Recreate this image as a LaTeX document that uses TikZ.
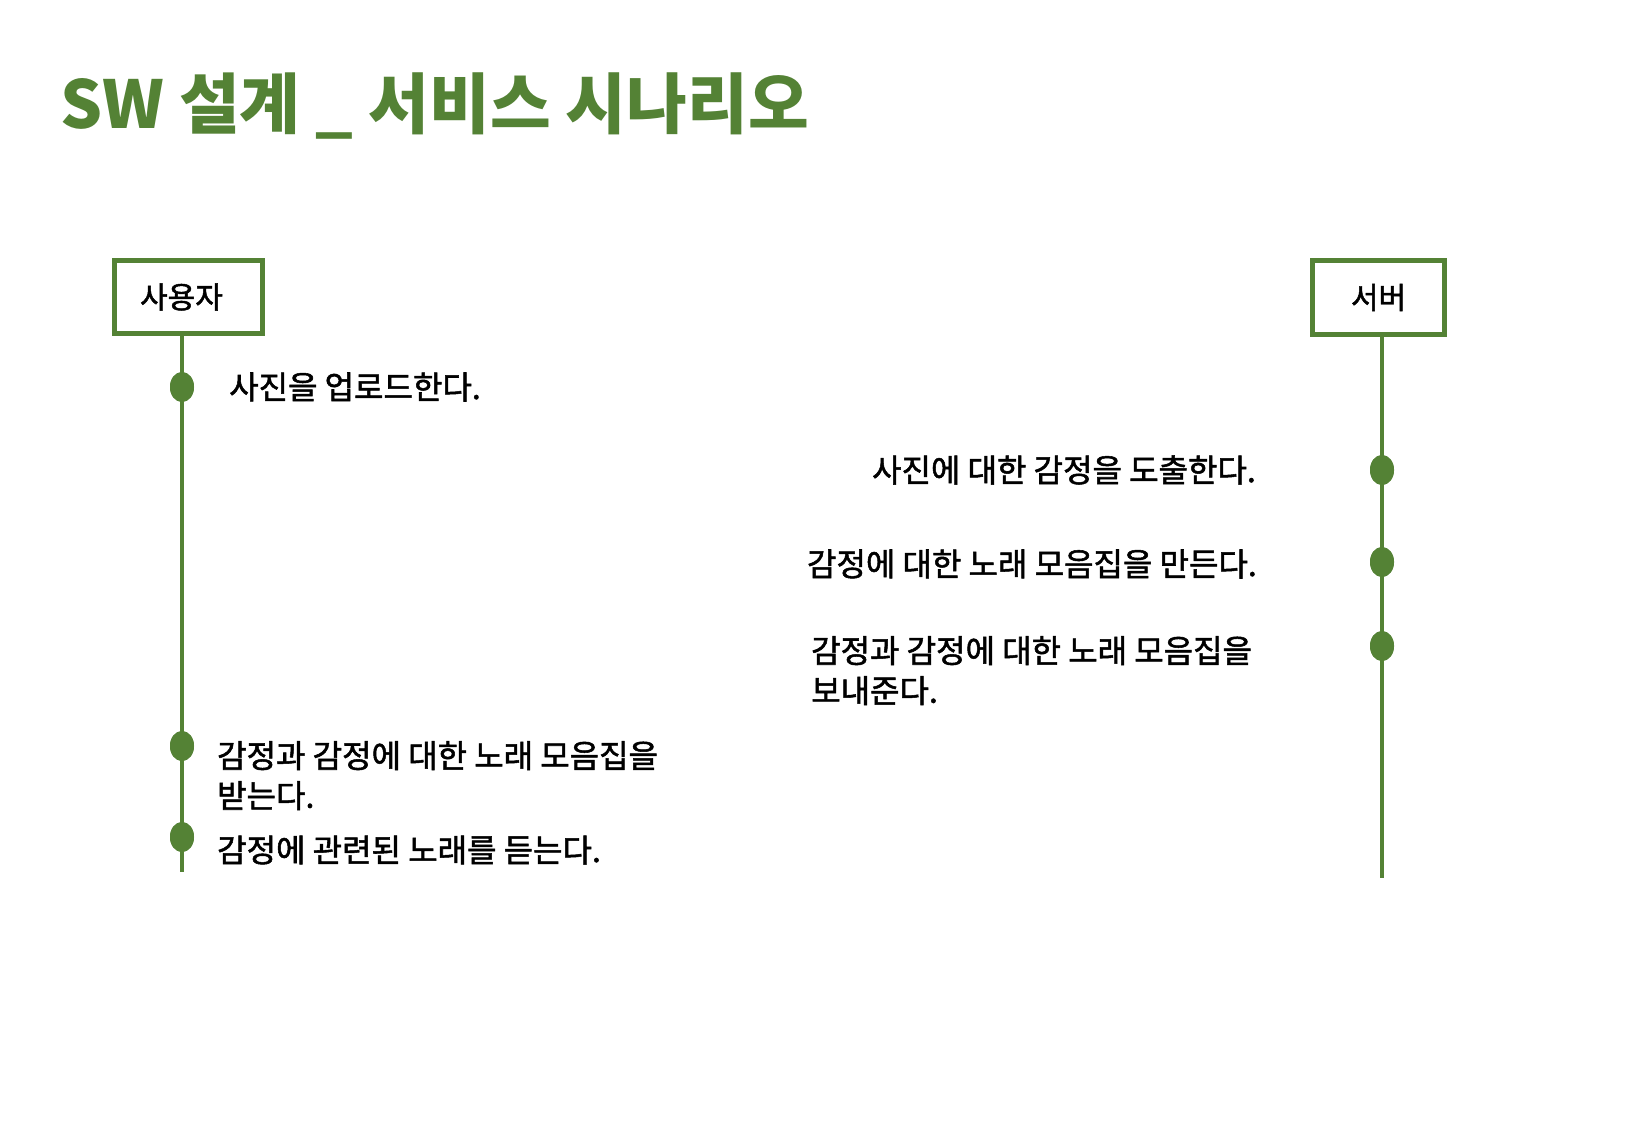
\documentclass[tikz,border=0pt]{standalone}
\usepackage{fontspec}
\setmainfont{Noto Sans CJK KR}
\newfontfamily\medfont[FakeBold=1.6]{Noto Sans CJK KR}
\usetikzlibrary{shapes.geometric}
\definecolor{grn}{RGB}{84,130,53}
\begin{document}
\begin{tikzpicture}[x=1pt,y=-1pt,
  actor/.style={draw=grn, line width=5pt, fill=white, minimum height=73pt, font=\fontsize{30}{34}\selectfont\medfont, inner sep=0pt},
  life/.style={draw=grn, line width=4.5pt},
  evdot/.style={ellipse, fill=grn, minimum width=24pt, minimum height=30pt, inner sep=0pt},
  evtext/.style={inner sep=0pt, font=\fontsize{32}{40}\selectfont\medfont, align=left},
  title/.style={inner sep=0pt, text=grn, font=\fontsize{66}{70}\selectfont\bfseries}]
\useasboundingbox[fill=white] (0,0) rectangle (1645,1139);

\node[title, anchor=west] (ttl) at (60,106) {SW 설계 \_ 서비스 시나리오};

% actors
\node[actor, minimum width=148pt] (user) at (188.5,297) {\hspace*{-14pt}사용자};
\node[actor, minimum width=132pt] (server) at (1378.5,297.5) {서버};

% user lifeline
\coordinate (uend) at (182,872);
\node[evdot] (u1) at (182,387) {};
\node[evdot] (u2) at (182,746) {};
\node[evdot] (u3) at (182,837) {};
\draw[life] (user.south -| uend) -- (uend);
\node[evdot] at (u1) {};
\node[evdot] at (u2) {};
\node[evdot] at (u3) {};

% server lifeline
\coordinate (send) at (1382,878);
\node[evdot] (s1) at (1382,470) {};
\node[evdot] (s2) at (1382,562) {};
\node[evdot] (s3) at (1382,646) {};
\draw[life] (server.south -| send) -- (send);
\node[evdot] at (s1) {};
\node[evdot] at (s2) {};
\node[evdot] at (s3) {};

% texts
\node[evtext, anchor=west] (t1) at (229,387) {사진을 업로드한다.};
\node[evtext, anchor=east] (t2) at (1256,470) {사진에 대한 감정을 도출한다.};
\node[evtext, anchor=east] (t3) at (1257,564) {감정에 대한 노래 모음집을 만든다.};
\node[evtext, anchor=north west] (t4) at (811,636) {감정과 감정에 대한 노래 모음집을\\보내준다.};
\node[evtext, anchor=north west] (t5) at (217,741) {감정과 감정에 대한 노래 모음집을\\받는다.};
\node[evtext, anchor=west] (t6) at (217,850) {감정에 관련된 노래를 듣는다.};
\end{tikzpicture}
\end{document}
